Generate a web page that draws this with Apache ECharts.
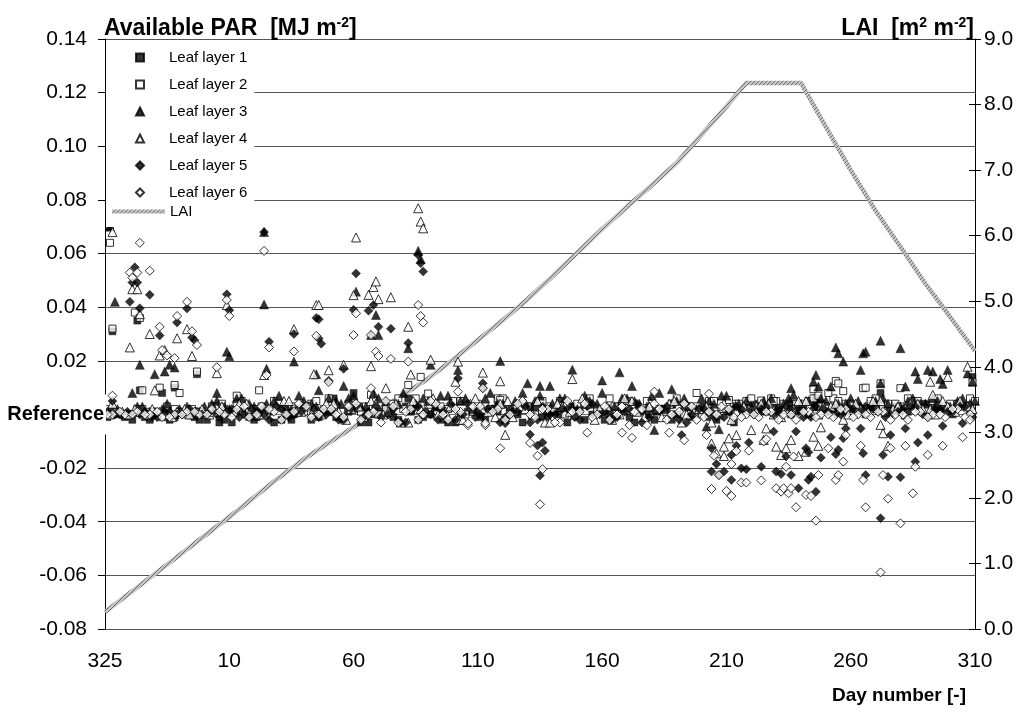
<!DOCTYPE html>
<html><head><meta charset="utf-8">
<script src="https://cdn.jsdelivr.net/npm/echarts/dist/echarts.min.js"></script>
<style>html,body{margin:0;padding:0;background:#fff}#c{width:1026px;height:711px}</style>
</head><body><div id="c"></div>
<script>
// x axis: days counted from day 325 (index 0) to day 310 of next year (index 350)
const tickLabels = ['325','10','60','110','160','210','260','310'];
const leftTicks = { min: -0.08, max: 0.14, step: 0.02 };
const rightTicks = { min: 0, max: 9, step: 1 };
const seriesNames = ['Leaf layer 1','Leaf layer 2','Leaf layer 3','Leaf layer 4','Leaf layer 5','Leaf layer 6','LAI'];

// background cluster values, one every 5 days (two interleaved sets per layer, start offsets below)
const L1_base = [-0.001,0.000,-0.002,-0.001,0.000,-0.002,0.001,-0.001,-0.002,
 0.000,-0.003,0.002,-0.001,0.001,-0.002,0.000,0.003,-0.001,0.001,
 -0.002,0.002,-0.003,0.001,-0.001,0.003,-0.002,0.000,0.002,-0.003,0.001,-0.001,0.002,-0.002,0.000,0.003,-0.001,0.001,-0.003,0.002,0.000,-0.002,0.003,-0.001,0.001,-0.002,0.002,0.000,-0.001,0.003,-0.002,0.001,
 0.002,0.004,0.001,0.003,0.000,0.002,0.004,0.001,0.003,0.002,0.000,0.004,0.002,0.001,0.003,0.004,0.002,0.000,0.003,0.002];
const L1_base2 = [0.000,-0.001,0.001,-0.002,0.000,-0.001,0.000,-0.002,0.001,
 -0.002,0.001,-0.001,0.002,-0.003,0.000,0.002,-0.002,0.001,-0.001,
 0.001,-0.003,0.000,0.002,-0.002,0.001,-0.001,0.003,-0.003,0.000,0.002,-0.002,0.001,0.000,-0.003,0.002,-0.001,0.000,0.003,-0.002,0.001,-0.001,0.002,-0.003,0.000,0.001,-0.002,0.003,0.000,-0.001,0.002,-0.003,
 0.003,0.001,0.004,0.002,0.003,0.000,0.004,0.002,0.001,0.003,0.004,0.002,0.003,0.001,0.004,0.002,0.003,0.004,0.001,0.003];
const L2_base = [0.001,0.000,0.002,0.001,-0.001,0.002,0.000,0.001,0.003,
 0.002,0.004,0.001,0.003,0.005,0.002,0.001,0.004,0.002,0.003,
 0.004,0.001,0.005,0.002,0.006,0.003,0.000,0.004,0.002,0.005,0.001,0.003,0.006,0.002,0.004,0.000,0.003,0.005,0.001,0.004,0.002,0.006,0.003,0.001,0.005,0.002,0.004,0.000,0.003,0.005,0.002,0.004,
 0.005,0.003,0.006,0.004,0.002,0.005,0.003,0.006,0.004,0.002,0.005,0.003,0.004,0.006,0.002,0.005,0.003,0.004,0.006,0.003];
const L2_base2 = [0.002,0.001,0.000,0.002,0.001,0.003,0.001,0.002,0.000,
 0.003,0.001,0.005,0.002,0.000,0.004,0.003,0.001,0.005,0.002,
 0.001,0.005,0.003,0.000,0.004,0.002,0.006,0.001,0.003,0.005,0.000,0.004,0.002,0.006,0.001,0.003,0.005,0.002,0.000,0.004,0.006,0.001,0.003,0.005,0.002,0.004,0.001,0.006,0.003,0.000,0.005,0.002,
 0.004,0.006,0.003,0.005,0.002,0.004,0.006,0.003,0.005,0.004,0.002,0.006,0.004,0.003,0.005,0.002,0.006,0.004,0.003,0.005];
const L3_base = [0.001,0.002,0.000,0.003,0.001,0.004,0.002,0.000,0.003,
 0.005,0.002,0.006,0.003,0.004,0.007,0.002,0.005,0.003,0.006,
 0.004,0.007,0.003,0.006,0.002,0.008,0.004,0.005,0.007,0.003,0.006,0.002,0.008,0.004,0.005,0.003,0.007,0.004,0.006,0.002,0.005,0.008,0.003,0.006,0.004,0.007,0.002,0.005,0.003,0.006,0.004,0.007,
 0.004,0.003,0.005,0.002,0.006,0.004,0.003,0.005,0.004,0.006,0.002,0.005,0.004,0.003,0.006,0.004,0.005,0.003,0.006,0.005];
const L3_base2 = [0.002,0.000,0.003,0.001,0.002,0.000,0.003,0.001,0.004,
 0.003,0.006,0.004,0.002,0.005,0.003,0.007,0.004,0.002,0.005,
 0.006,0.003,0.008,0.005,0.004,0.002,0.006,0.003,0.007,0.005,0.002,0.006,0.004,0.003,0.008,0.005,0.002,0.006,0.003,0.007,0.004,0.002,0.006,0.005,0.003,0.008,0.004,0.006,0.002,0.005,0.007,0.003,
 0.005,0.003,0.006,0.004,0.002,0.005,0.006,0.003,0.004,0.005,0.003,0.006,0.002,0.005,0.004,0.006,0.003,0.005,0.004,0.006];
const L4_base = [0.000,0.001,0.002,0.000,0.001,-0.001,0.002,0.001,0.000,
 0.003,0.001,0.004,0.000,0.002,0.005,0.001,0.003,0.000,0.004,
 -0.002,0.003,0.005,0.000,0.004,-0.003,0.002,0.006,0.001,-0.002,0.004,0.002,-0.001,0.005,0.003,0.000,-0.003,0.004,0.001,0.006,-0.002,0.003,0.000,0.005,-0.001,0.002,0.004,-0.003,0.001,0.003,0.000,-0.002,
 0.003,0.001,0.004,-0.001,0.002,0.005,0.000,0.003,-0.002,0.004,0.001,0.005,0.002,0.000,0.004,0.002,0.005,0.001,0.003,0.004];
const L4_base2 = [0.001,0.000,0.001,0.002,0.000,0.001,0.000,0.002,0.001,
 0.001,0.004,0.002,0.000,0.003,0.005,0.001,0.002,0.004,0.001,
 0.002,-0.001,0.004,0.001,-0.003,0.005,0.002,0.000,0.003,-0.002,0.006,0.001,0.004,-0.001,0.002,0.005,-0.003,0.003,0.000,0.004,0.002,-0.002,0.006,0.001,0.003,-0.001,0.005,0.000,0.002,-0.003,0.004,0.001,
 0.002,0.004,0.000,0.003,0.005,0.001,0.003,0.004,0.000,0.002,0.005,0.001,0.003,0.004,0.002,0.000,0.003,0.005,0.002,0.004];
const L5_base = [0.000,0.001,0.000,-0.001,0.001,0.000,0.002,0.000,0.001,
 0.001,-0.001,0.002,0.000,0.003,-0.001,0.001,0.002,0.000,-0.002,
 0.002,-0.001,0.003,0.000,-0.003,0.002,0.001,-0.002,0.004,0.000,-0.001,0.002,-0.003,0.001,0.003,-0.002,0.000,0.002,-0.001,0.003,0.000,-0.002,0.001,0.004,-0.001,0.002,0.000,-0.003,0.002,0.001,-0.001,0.003,
 0.001,0.002,0.000,0.003,0.001,-0.001,0.002,0.000,0.003,0.001,0.002,-0.001,0.001,0.003,0.000,0.002,0.001,0.003,-0.001,0.002];
const L5_base2 = [0.001,0.000,0.000,0.001,-0.001,0.001,0.000,0.001,0.000,
 -0.001,0.002,0.000,0.001,-0.002,0.002,0.000,0.003,-0.001,0.001,
 -0.002,0.003,0.001,-0.001,0.002,-0.003,0.003,0.000,0.001,-0.002,0.004,0.000,0.002,-0.001,0.001,-0.003,0.003,0.000,0.002,-0.002,0.004,0.001,-0.001,0.002,-0.003,0.001,0.003,-0.002,0.000,0.002,-0.001,0.001,
 0.002,0.000,0.003,0.001,0.002,-0.001,0.003,0.001,0.000,0.002,0.003,0.001,0.000,0.002,0.003,-0.001,0.002,0.001,0.003,0.000];
const L6_base = [0.000,0.000,0.001,0.000,-0.001,0.000,0.001,0.000,0.002,
 0.000,0.002,-0.001,0.003,0.001,0.000,0.004,-0.001,0.002,0.000,
 0.003,-0.002,0.001,0.005,-0.003,0.002,0.000,0.004,-0.002,0.001,0.003,-0.004,0.002,0.000,0.005,-0.001,0.002,-0.003,0.001,0.004,0.000,-0.002,0.003,0.001,-0.004,0.002,0.000,0.004,-0.002,0.001,0.003,-0.001,
 0.000,-0.001,0.001,0.000,-0.002,0.001,0.000,-0.001,0.002,0.000,-0.001,0.001,0.000,-0.002,0.001,0.000,-0.001,0.002,0.000,0.001];
const L6_base2 = [0.000,0.001,0.000,0.000,0.001,-0.001,0.000,0.001,0.000,
 0.001,-0.001,0.003,0.000,0.002,-0.002,0.001,0.003,0.000,0.002,
 -0.001,0.004,0.000,-0.003,0.003,0.001,-0.002,0.005,0.000,0.002,-0.004,0.003,0.001,-0.002,0.004,0.000,0.002,-0.003,0.005,0.001,-0.001,0.003,0.000,-0.004,0.002,0.004,-0.002,0.001,0.003,-0.001,0.000,0.002,
 -0.001,0.000,0.001,-0.002,0.000,0.001,-0.001,0.000,0.002,-0.001,0.000,0.001,-0.002,0.000,0.001,-0.001,0.000,0.002,-0.001,0.000];
const baseOffsets = [1,3,0,2,4,3];
const baseOffsets2 = [3,0,3,4,1,1];

// individual departures [day index, value]
const L1_extra = [[2,0.070],[3,0.031],[13,0.035],[14,0.009],[23,0.008],[28,0.010],[37,0.015],[46,-0.003],[60,-0.002],[75,-0.002],[92,0.006],[100,0.008],[122,0.006],[136,-0.002],[158,0.005],[276,0.004],[286,0.006],[312,0.008],[349,0.014]];
const L2_extra = [[2,0.064],[3,0.032],[12,0.038],[14,0.036],[15,0.009],[22,0.010],[28,0.011],[30,0.008],[37,0.016],[47,0.004],[53,0.007],[62,0.009],[90,0.006],[107,0.0073],[122,0.011],[127,0.014],[130,0.0078],[159,0.0054],[176,0.005],[238,0.008],[251,0.0054],[264,0.0052],[269,0.005],[274,0.0017],[278,0.0038],[285,0.0094],[287,0.007],[291,0.008],[294,0.0125],[295,0.0116],[297,0.0087],[305,0.0098],[306,0.010],[312,0.0116],[320,0.0098],[327,0.005],[349,0.012]];
const L3_extra = [[2,0.070],[4,0.042],[14,0.0185],[26,0.0185],[28,0.0175],[24,0.016],[20,0.015],[11,0.008],[45,0.008],[49,0.0234],[50,0.0217],[64,0.068],[64,0.041],[65,0.017],[76,0.0197],[85,0.015],[86,0.009],[96,0.0106],[101,0.0458],[109,0.0371],[110,0.0296],[107,0.0296],[126,0.061],[127,0.058],[122,0.0247],[131,0.0185],[142,0.0166],[159,0.0199],[170,0.0116],[175,0.0106],[179,0.0106],[188,0.0167],[200,0.0127],[207,0.0157],[212,0.0106],[221,-0.0058],[228,0.0094],[242,-0.0045],[247,-0.0055],[276,0.0098],[277,0.0073],[285,0.0122],[286,0.0147],[287,0.0104],[292,0.0104],[294,0.025],[295,0.0228],[297,0.0197],[304,0.0166],[305,0.0228],[306,0.0234],[312,0.0116],[312,0.0275],[320,0.0247],[322,0.0104],[326,0.016],[327,0.0132],[331,0.0166],[333,0.016],[336,0.0132],[337,0.0114],[339,0.0166],[347,0.0153],[349,0.0122]];
const L4_extra = [[3,0.068],[10,0.025],[11,0.0467],[13,0.0467],[14,0.0374],[18,0.030],[22,0.022],[24,0.024],[29,0.0284],[33,0.0318],[35,0.0218],[3,0.004],[20,0.009],[45,0.0154],[49,0.0408],[64,0.0147],[76,0.0318],[84,0.015],[85,0.0408],[86,0.0408],[90,0.0165],[96,0.0185],[100,0.0445],[101,0.066],[106,0.0446],[108,0.0475],[109,0.0496],[110,0.043],[113,0.0098],[115,0.0437],[107,0.018],[122,0.0327],[123,0.0149],[126,0.0769],[127,0.0719],[128,0.0694],[131,0.0204],[142,0.0197],[141,0.0122],[152,0.0156],[159,0.0124],[161,-0.0076],[188,0.0132],[244,-0.0108],[246,-0.0145],[249,-0.012],[249,-0.0155],[251,-0.0089],[254,-0.0077],[260,-0.0058],[265,-0.0095],[266,-0.0052],[270,-0.012],[272,-0.0151],[274,-0.0126],[276,-0.0095],[279,-0.0155],[282,-0.0139],[285,-0.0083],[287,-0.0117],[288,-0.0048],[312,-0.0039],[313,-0.007],[315,-0.0117],[332,0.0122],[333,0.0073],[339,0.014],[347,0.0178]];
const L5_extra = [[10,0.042],[12,0.0549],[13,0.0492],[11,0.0492],[14,0.0396],[18,0.0446],[22,0.0294],[29,0.0343],[33,0.0395],[35,0.0287],[36,0.0277],[3,0.005],[49,0.0448],[50,0.0389],[64,0.068],[66,0.0271],[76,0.030],[85,0.036],[86,0.0355],[86,0.0283],[87,0.0264],[90,0.0126],[96,0.017],[100,0.039],[101,0.0526],[106,0.0387],[108,0.0408],[110,0.0327],[115,0.032],[122,0.0266],[126,0.0595],[127,0.0564],[128,0.0533],[142,0.0135],[152,0.0116],[152,0.0098],[161,-0.0033],[171,-0.0075],[174,-0.0116],[176,-0.0105],[177,-0.0135],[175,-0.0228],[232,-0.0077],[244,-0.0126],[246,-0.0185],[244,-0.0213],[249,-0.0213],[247,-0.0226],[252,-0.0244],[254,-0.0117],[252,-0.0151],[256,-0.0201],[258,-0.0204],[259,-0.0105],[264,-0.0195],[269,-0.0064],[270,-0.0213],[272,-0.0222],[274,-0.0157],[276,-0.0226],[278,-0.0064],[279,-0.0275],[282,-0.0126],[283,-0.0141],[283,-0.0244],[284,-0.0232],[286,-0.0288],[288,-0.0161],[292,-0.0085],[295,-0.0132],[294,-0.0148],[297,-0.0089],[298,-0.0052],[304,-0.0052],[305,-0.0145],[306,-0.0226],[312,-0.0387],[313,-0.0151],[315,-0.0232],[316,-0.0077],[320,-0.0234],[322,-0.0052],[326,-0.0176],[327,-0.0105],[331,-0.0077],[337,-0.0043],[345,-0.0033]];
const L6_extra = [[14,0.064],[10,0.0529],[11,0.051],[13,0.0529],[18,0.0536],[22,0.0327],[23,0.024],[25,0.022],[28,0.021],[29,0.0367],[33,0.042],[35,0.031],[37,0.0259],[3,0.007],[45,0.0176],[49,0.0427],[50,0.0367],[64,0.061],[66,0.025],[65,0.0147],[76,0.0235],[85,0.0293],[90,0.0121],[101,0.0377],[100,0.0296],[107,0.0296],[109,0.0234],[110,0.0218],[115,0.0207],[122,0.0197],[126,0.0408],[127,0.0367],[128,0.0343],[142,0.0085],[152,0.0098],[107,0.0098],[146,-0.0033],[153,-0.0033],[159,-0.0126],[171,-0.0106],[174,-0.0154],[176,-0.0204],[175,-0.0335],[194,-0.0068],[208,-0.0068],[212,-0.0087],[221,0.0085],[227,-0.0068],[233,-0.0096],[242,-0.0077],[243,0.0077],[245,-0.0154],[247,-0.0226],[244,-0.0278],[250,-0.0285],[252,-0.0304],[252,-0.0185],[254,-0.0136],[256,-0.0254],[258,-0.0254],[259,-0.0135],[264,-0.0246],[265,-0.0101],[266,-0.0092],[270,-0.0275],[272,-0.0288],[273,-0.0275],[275,-0.0294],[276,-0.0275],[278,-0.0346],[274,-0.0195],[277,-0.0157],[282,-0.030],[284,-0.0304],[286,-0.0396],[287,-0.0226],[291,-0.0126],[294,-0.0244],[295,-0.0226],[297,-0.0176],[298,-0.0077],[304,-0.0117],[305,-0.0244],[306,-0.0346],[312,-0.0589],[313,-0.0226],[315,-0.0314],[316,-0.0126],[320,-0.0406],[322,-0.0117],[325,-0.0294],[326,-0.0195],[331,-0.0151],[337,-0.0117],[345,-0.0085],[348,-0.002]];

// LAI [m2 m-2]
const LAI_days = [0,10,20,30,40,50,60,70,80,90,100,110,120,130,140,150,160,170,180,190,200,210,220,230,240,250,258,270,280,290,300,310,320,330,340,350];
const LAI_vals = [0.26,0.55,0.84,1.13,1.42,1.71,2.01,2.31,2.59,2.84,3.08,3.33,3.57,3.82,4.11,4.41,4.71,5.03,5.38,5.74,6.10,6.44,6.77,7.11,7.54,7.97,8.33,8.33,8.33,7.66,7.00,6.38,5.83,5.27,4.76,4.24];

const FONT = '"Liberation Sans", Arial, sans-serif';
const bases = [L1_base,L2_base,L3_base,L4_base,L5_base,L6_base];
const bases2 = [L1_base2,L2_base2,L3_base2,L4_base2,L5_base2,L6_base2];
const extras = [L1_extra,L2_extra,L3_extra,L4_extra,L5_extra,L6_extra];
const symbols = ['rect','rect','triangle','triangle','diamond','diamond'];
const sizes = [7,7,9,9,9,9];
const filled = [true,false,true,false,true,false];

function spread(vals, off, out){
  vals.forEach((v,k)=>{ const d = k*5 + off; if (d <= 350) out.push([d, v]); });
}
function buildData(i){
  const out = [];
  spread(bases[i], baseOffsets[i], out);
  spread(bases2[i], baseOffsets2[i], out);
  return out.concat(extras[i]);
}
function texture(){
  const c = document.createElement('canvas'); c.width = 4; c.height = 4;
  const g = c.getContext('2d');
  g.fillStyle = '#c4c4c4'; g.fillRect(0,0,4,4);
  g.fillStyle = '#6e6e6e';
  for (let i=0;i<4;i++){ g.fillRect(i, (3-i), 1, 1); }
  return c;
}
const laiPattern = {image: texture(), repeat:'repeat'};

const chart = echarts.init(document.getElementById('c'), null, {renderer:'canvas'});
const gridL = 105, gridR = 51, gridT = 39, gridB = 82;

const series = [];
for (let i=0;i<6;i++){
  series.push({
    name: seriesNames[i], type:'scatter', yAxisIndex:0,
    symbol: symbols[i], symbolSize: sizes[i],
    itemStyle: filled[i] ? {color:'#000', borderColor:'#000', borderWidth:0.5}
                         : {color:'#fff', borderColor:'#000', borderWidth:1},
    data: buildData(i), z: 3 + i
  });
}
series.push({
  name: seriesNames[6], type:'line', yAxisIndex:1, symbol:'none', z: 2,
  lineStyle: { width: 4.5, color: laiPattern },
  itemStyle: { color: '#a0a0a0' },
  data: LAI_days.map((d,i)=>[d, LAI_vals[i]])
});

const supRich = {
  b:{fontFamily:FONT,fontWeight:'bold',fontSize:23,color:'#000',lineHeight:26},
  s:{fontFamily:FONT,fontWeight:'bold',fontSize:14,color:'#000',verticalAlign:'top',lineHeight:26}
};

chart.setOption({
  animation:false,
  backgroundColor:'#fff',
  textStyle:{fontFamily:FONT},
  grid:{left:gridL, right:gridR, top:gridT, bottom:gridB},
  title:[
    {text:'{b|Available PAR  [MJ m}{s|-2}{b|]}', left:104, top:16, padding:0,
     textStyle:{rich:supRich}},
    {text:'{b|LAI  [m}{s|2}{b| m}{s|-2}{b|]}', right:52, top:16, padding:0,
     textStyle:{rich:supRich}},
    {text:'Day number [-]', right:60, bottom:6, padding:0,
     textStyle:{fontFamily:FONT,fontWeight:'bold',fontSize:19,color:'#000'}}
  ],
  legend:[
    {orient:'vertical', left:106, top:45, padding:[5,7,12,29],
     backgroundColor:'#fff', itemWidth:8, itemHeight:8, itemGap:12,
     textStyle:{fontFamily:FONT,fontSize:15,color:'#000',lineHeight:14,padding:[0,0,0,20]},
     data: seriesNames.slice(0,6), z: 10},
    {orient:'vertical', left:106, top:204, padding:[0,62,8,6],
     backgroundColor:'#fff', itemWidth:53, itemHeight:4,
     textStyle:{fontFamily:FONT,fontSize:15,color:'#000',lineHeight:14},
     data: [{name: seriesNames[6], icon:'path://M0,0L53,0L53,4L0,4Z',
             itemStyle:{color: laiPattern, borderWidth:0}}], z: 11}
  ],
  xAxis:{
    type:'value', min:0, max:350, interval:50,
    axisLine:{show:true, lineStyle:{color:'#777', width:1}},
    axisTick:{show:false}, splitLine:{show:false},
    axisLabel:{margin:22, fontFamily:FONT, fontSize:21, color:'#000',
      formatter:(v)=>tickLabels[Math.round(v/50)]}
  },
  yAxis:[
    {type:'value', min:leftTicks.min, max:leftTicks.max, interval:leftTicks.step, position:'left',
     axisLine:{show:true, lineStyle:{color:'#000', width:1}},
     axisTick:{show:true, length:7, lineStyle:{color:'#000'}},
     splitLine:{show:true, lineStyle:{color:'#555', width:1}},
     axisLabel:{margin:18, fontFamily:FONT, fontSize:21, color:'#000',
       formatter:(v)=> Math.abs(v) < 1e-9 ? '' : v.toFixed(2)}},
    {type:'value', min:rightTicks.min, max:rightTicks.max, interval:rightTicks.step, position:'right',
     axisLine:{show:true, lineStyle:{color:'#000', width:1}},
     axisTick:{show:true, length:6, lineStyle:{color:'#000'}},
     splitLine:{show:false},
     axisLabel:{margin:9, fontFamily:FONT, fontSize:21, color:'#000', formatter:(v)=>v.toFixed(1)}},
    {type:'value', min:rightTicks.min, max:rightTicks.max, interval:rightTicks.step, position:'right',
     axisLine:{show:false}, axisTick:{show:true, inside:true, length:6, lineStyle:{color:'#000'}},
     splitLine:{show:false}, axisLabel:{show:false}}
  ],
  series: series
});

const y0 = chart.convertToPixel({yAxisIndex:0}, 0);
chart.setOption({
  graphic:[{type:'text', z:20, x: gridL + 1, y: y0,
    style:{text:'Reference', fontFamily:FONT, fontWeight:'bold', fontSize:20, fill:'#000',
      align:'right', verticalAlign:'middle', backgroundColor:'#fff', padding:[10,2,10,4]}}]
});
</script></body></html>
